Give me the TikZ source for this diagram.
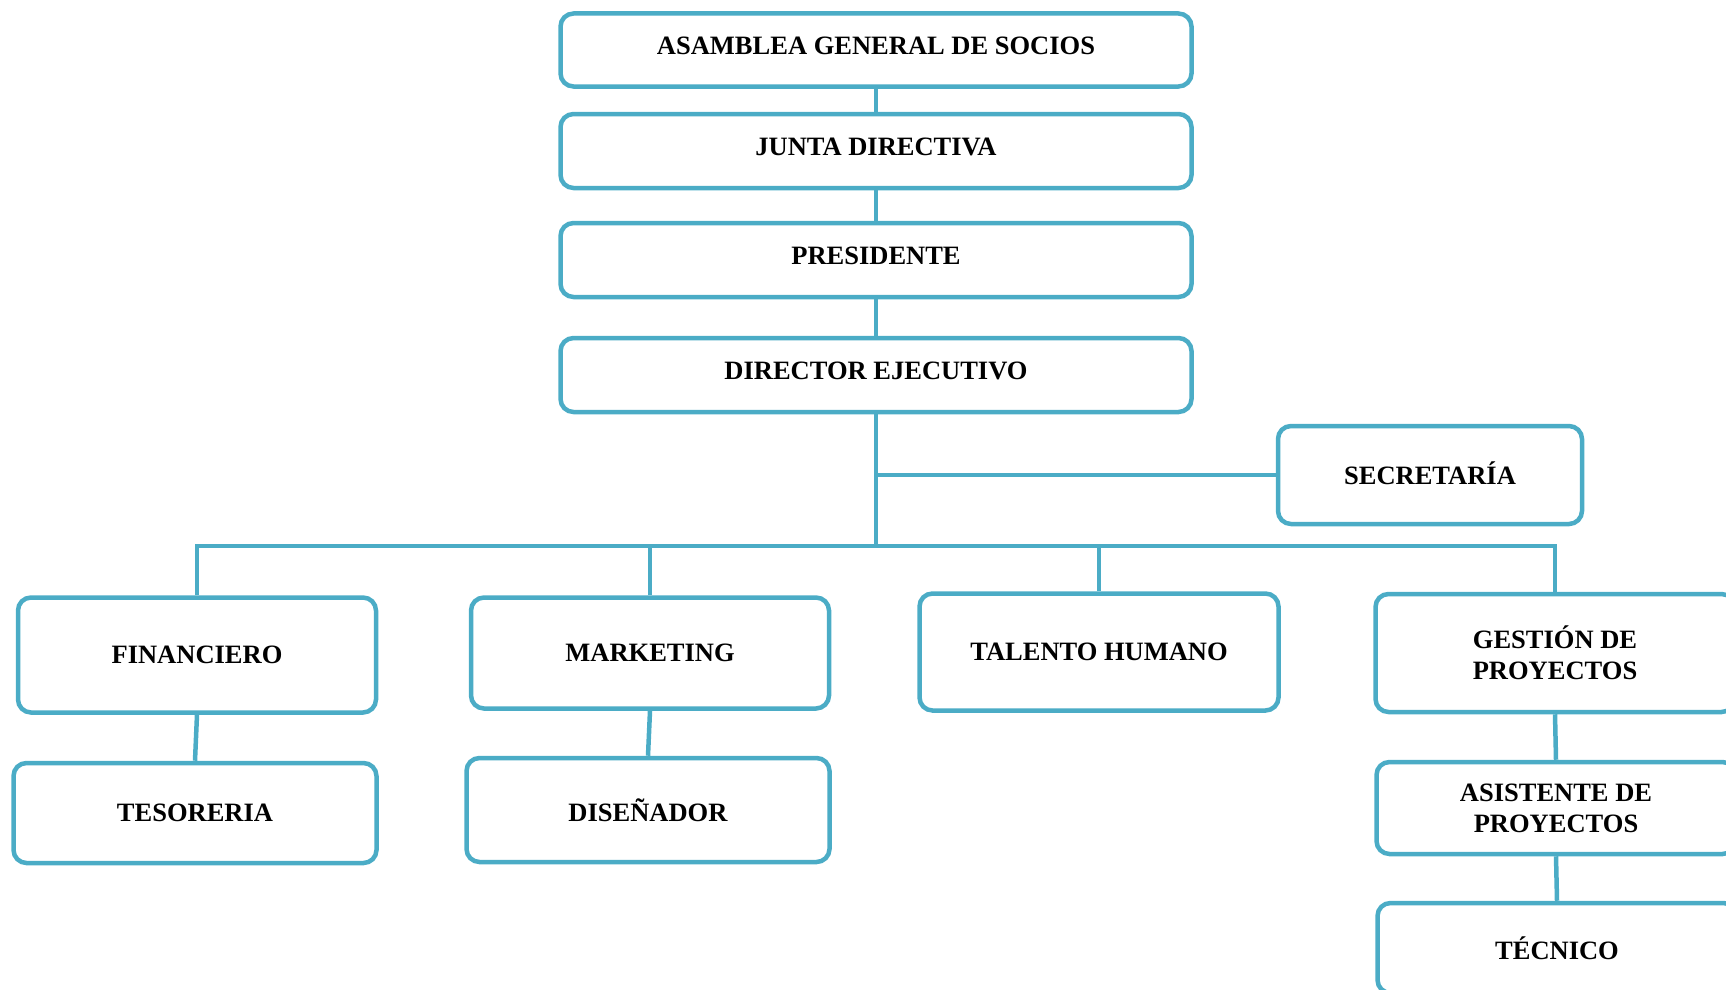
\documentclass[tikz,border=0pt]{standalone}
\usepackage{fontspec}
\setmainfont{Liberation Serif}
\usetikzlibrary{positioning}

\definecolor{aqua}{RGB}{75,172,198}

\begin{document}
\begin{tikzpicture}[
    x=1pt, y=-1pt,
    box/.style={draw=aqua, line width=4.5pt, rounded corners=13pt, fill=white,
        align=center, inner sep=0pt,
        font=\bfseries\fontsize{26.5}{31}\selectfont},
    headbox/.style={box, minimum width=631pt, minimum height=74pt, text depth=9pt},
    link/.style={draw=aqua, line width=4.5pt},
]

\useasboundingbox (0,0) rectangle (1726,990);
\clip (0,0) rectangle (1726,990);

% === Top of the chain ===
\node[headbox, minimum height=73pt] (asamblea) at (876,50) {ASAMBLEA GENERAL DE SOCIOS};
\node[headbox] (junta) at (876,151) {JUNTA DIRECTIVA};
\node[headbox] (presidente) at (876,260) {PRESIDENTE};
\node[headbox] (director) at (876,375) {DIRECTOR EJECUTIVO};

\draw[link] (asamblea.south) -- (junta.north);
\draw[link] (junta.south) -- (presidente.north);
\draw[link] (presidente.south) -- (director.north);

% === Staff ===
\node[box, minimum width=304pt, minimum height=98pt, text depth=4pt] (secretaria) at (1430,475) {SECRETARÍA};

% === Departments ===
\node[box, minimum width=358pt, minimum height=115pt] (financiero) at (197,655) {FINANCIERO};
\node[box, minimum width=358pt, minimum height=111pt] (marketing) at (650,653) {MARKETING};
\node[box, minimum width=359pt, minimum height=117pt] (talento) at (1099,652) {TALENTO HUMANO};
\node[box, minimum width=359pt, minimum height=118pt] (gestion) at (1555,653) {GESTIÓN DE\\PROYECTOS};

% === Second level ===
\node[box, minimum width=363pt, minimum height=100pt] (tesoreria) at (195,813) {TESORERIA};
\node[box, minimum width=363pt, minimum height=104pt] (disenador) at (648,810) {DISEÑADOR};
\node[box, minimum width=359pt, minimum height=92pt] (asistente) at (1556,808) {ASISTENTE DE\\PROYECTOS};
\node[box, minimum width=359pt, minimum height=90pt] (tecnico) at (1557,948) {TÉCNICO};

% === Connectors ===
\coordinate (bus) at (876,546);
\draw[link] (director.south) -- (bus);
\draw[link] (secretaria.west) -- (secretaria.west -| director.south);
\draw[link] (financiero.north) |- (bus) -| (gestion.north);
\draw[link] (marketing.north) -- (marketing.north |- bus);
\draw[link] (talento.north) -- (talento.north |- bus);

\draw[link] (financiero.south) -- (tesoreria.north);
\draw[link] (marketing.south) -- (disenador.north);
\draw[link] (gestion.south) -- (asistente.north);
\draw[link] (asistente.south) -- (tecnico.north);

\end{tikzpicture}
\end{document}
